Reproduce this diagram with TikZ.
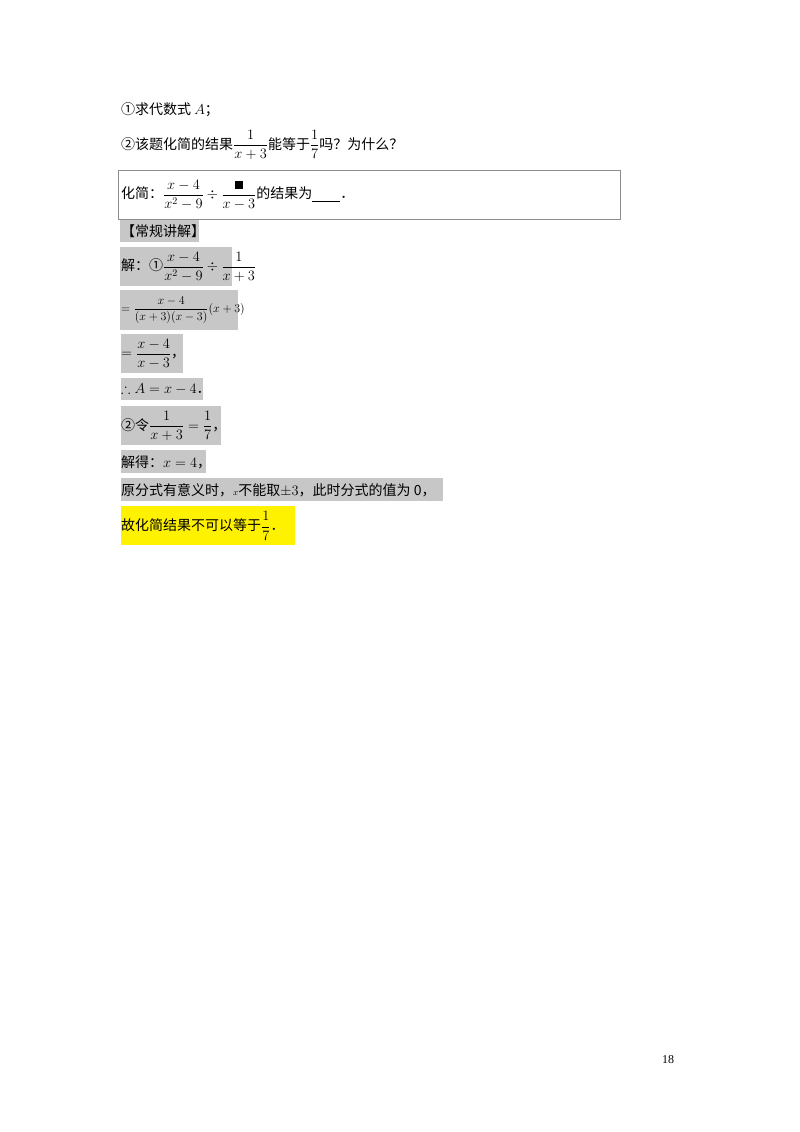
\documentclass[tikz,border=0pt]{standalone}
\usepackage{amsmath,amssymb}
\usepackage{fontspec}
\setmainfont{Noto Sans CJK SC}
\newfontfamily\serif{Liberation Serif}
\begin{document}
\begin{tikzpicture}[x=1pt,y=-1pt,
  t/.style={anchor=west,inner sep=0pt,font=\fontsize{14}{16}\selectfont},
  gb/.style={fill=black!22,draw=none},
  yb/.style={fill=yellow,draw=none}]
\useasboundingbox (0,0) rectangle (800,1132);
\fill[white] (0,0) rectangle (800,1132);
% shaded boxes
\path[gb] (120,220) rectangle (199,242);
\path[gb] (120,247) rectangle (232,286);
\path[gb] (120,290) rectangle (238,330);
\path[gb] (121,334) rectangle (183,373);
\path[gb] (121,378) rectangle (203,400);
\path[gb] (121,406) rectangle (221,445);
\path[gb] (121,450) rectangle (206,473);
\path[gb] (121,478) rectangle (443,501);
\path[yb] (121,506) rectangle (295,545);
\draw[black!45,line width=0.8pt] (118,170) rectangle (620,219);
\node[t] (q1) at (121,110) {①求代数式 $A$；};
\node[t] (q2) at (121,145) {②该题化简的结果$\dfrac{1}{x+3}$能等于$\dfrac{1}{7}$吗？为什么？};
\node[t] (p) at (121,195) {化简：$\dfrac{x-4}{x^2-9}\div\dfrac{\rule{8pt}{8pt}}{x-3}$的结果为\underline{\hspace{2em}}．};
\node[t] (h) at (121,231) {【常规讲解】};
\node[t] (s1) at (121,267) {解：①$\dfrac{x-4}{x^2-9}\div\dfrac{1}{x+3}$};
\node[t] (s2) at (121,310) {\fontsize{12}{14}\selectfont$=\dfrac{x-4}{(x+3)(x-3)}(x+3)$};
\node[t] (s3) at (121,354) {$=\dfrac{x-4}{x-3}$，};
\node[t] (s4) at (121,389) {$\therefore A=x-4$．};
\node[t] (s5) at (121,426) {②令$\dfrac{1}{x+3}=\dfrac{1}{7}$，};
\node[t] (s6) at (121,462) {解得：$x=4$，};
\node[t] (s7) at (121,490) {原分式有意义时，{\fontsize{9}{10}\selectfont$x$}不能取$\pm3$，此时分式的值为 0，};
\node[t] (s8) at (121,526) {故化简结果不可以等于$\dfrac{1}{7}$．};
\node[t,font=\serif\fontsize{12}{14}\selectfont] (pg) at (662,1060) {18};
\end{tikzpicture}
\end{document}
